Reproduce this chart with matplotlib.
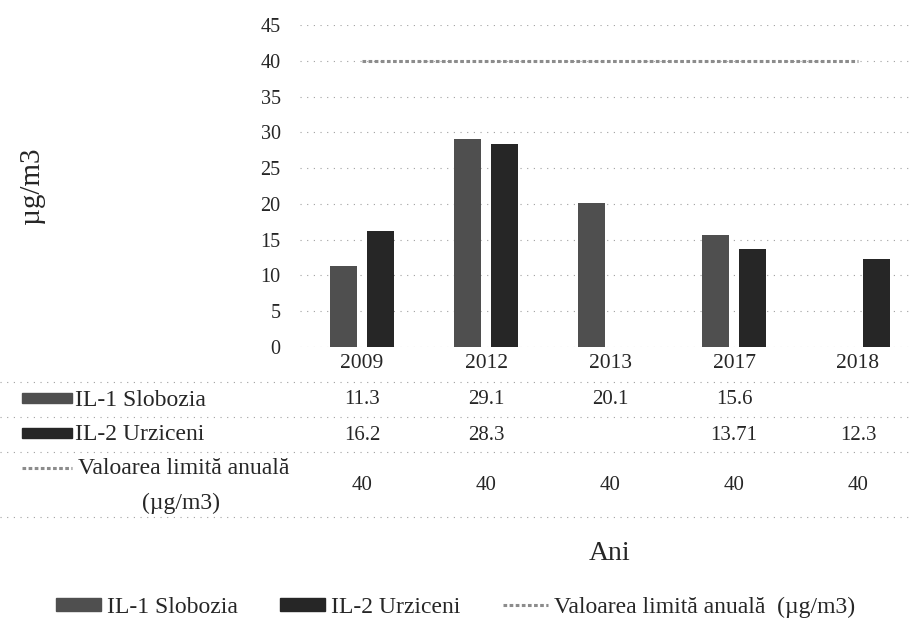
import matplotlib
matplotlib.use('Agg')
import matplotlib.pyplot as plt
from matplotlib.patches import Rectangle
from matplotlib.lines import Line2D
from matplotlib.transforms import blended_transform_factory

# --- data ---
years = ['2009', '2012', '2013', '2017', '2018']
slobozia = [11.3, 29.1, 20.1, 15.6, None]
urziceni = [16.2, 28.3, None, 13.71, 12.3]
limita = [40, 40, 40, 40, 40]
series_names = ['IL-1 Slobozia', 'IL-2 Urziceni', 'Valoarea limită anuală  (µg/m3)']
y_ticks = [0, 5, 10, 15, 20, 25, 30, 35, 40, 45]

plt.rcParams['font.family'] = ['Liberation Serif', 'DejaVu Serif']
TXT = '#262626'
C_SLOB = '#4f4f4f'
C_URZ = '#262626'
C_LIM = '#8c8c8c'
W, H = 911, 624

def fx(px):
    return px / W

def fy(py):
    return 1 - py / H

fig = plt.figure(figsize=(9.11, 6.24), dpi=100)
fig.patch.set_facecolor('white')
ax = fig.add_axes([fx(300), fy(347), 620 / W, 322 / H])

x = list(range(len(years)))
bw = 0.218
off = 0.15

xs = [i - off for i, v in zip(x, slobozia) if v is not None]
ax.bar(xs, [v for v in slobozia if v is not None], width=bw, color=C_SLOB, zorder=3)
xu = [i + off for i, v in zip(x, urziceni) if v is not None]
ax.bar(xu, [v for v in urziceni if v is not None], width=bw, color=C_URZ, zorder=3)
ax.plot(x, limita, color=C_LIM, lw=2.2, ls=(0, (1.2, 0.8)), zorder=4)

ax.set_xlim(-0.5, 4.5)
ax.set_ylim(0, 45)
ax.set_yticks(y_ticks)
ax.set_xticks(x, years)
ax.tick_params(axis='y', length=0, pad=14, labelsize=14.5, labelcolor=TXT)
ax.tick_params(axis='x', length=0, pad=5, labelsize=15.5, labelcolor=TXT)
for s in ax.spines.values():
    s.set_visible(False)
ax.yaxis.grid(True, color='#a0a0a0', lw=0.8, ls=(0, (1, 5)))
ax.set_axisbelow(True)

ax.set_ylabel('µg/m3', fontsize=21, color=TXT)
ax.yaxis.set_label_coords((45 - 300) / 620, 0.5)
ax.set_xlabel('Ani', fontsize=20, color=TXT)
ax.xaxis.set_label_coords(0.5, (347 - 541) / 322)

# --- data table under the plot ---
for py in [382, 417, 452, 517]:
    fig.add_artist(Line2D([0, 1], [fy(py), fy(py)], transform=fig.transFigure,
                          color='#a0a0a0', lw=0.8, ls=(0, (1, 5))))

blend = blended_transform_factory(ax.transData, fig.transFigure)
rows = [(slobozia, 400), (urziceni, 435), (limita, 485)]
for vals, py in rows:
    for i, v in zip(x, vals):
        if v is not None:
            ax.text(i, fy(py), f'{v:g}', transform=blend, ha='center', va='center',
                    fontsize=15, color=TXT)

fig.add_artist(Rectangle((fx(22), fy(403)), 50 / W, 10 / H, transform=fig.transFigure,
                         color=C_SLOB))
fig.text(fx(75), fy(400), series_names[0], ha='left', va='center', fontsize=17, color=TXT)
fig.add_artist(Rectangle((fx(22), fy(438)), 50 / W, 10 / H, transform=fig.transFigure,
                         color=C_URZ))
fig.text(fx(75), fy(435), series_names[1], ha='left', va='center', fontsize=17, color=TXT)
fig.add_artist(Line2D([fx(22), fx(72)], [fy(468), fy(468)], transform=fig.transFigure,
                      color=C_LIM, lw=2.2, ls=(0, (1.2, 0.8))))
fig.text(fx(78), fy(468), 'Valoarea limită anuală', ha='left', va='center',
         fontsize=17, color=TXT)
fig.text(fx(181), fy(503), '(µg/m3)', ha='center', va='center', fontsize=17, color=TXT)

# --- legend ---
handles = [Rectangle((0, 0), 1, 1, color=C_SLOB),
           Rectangle((0, 0), 1, 1, color=C_URZ),
           Line2D([], [], color=C_LIM, lw=2.2, ls=(0, (1.2, 0.8)))]
fig.legend(handles, series_names, loc='center', bbox_to_anchor=(0.5, fy(607)), ncol=3,
           frameon=False, fontsize=17, handlelength=1.9, handleheight=0.45,
           handletextpad=0.25, columnspacing=1.8, labelcolor=TXT)

fig.savefig('out.png', dpi=100)
